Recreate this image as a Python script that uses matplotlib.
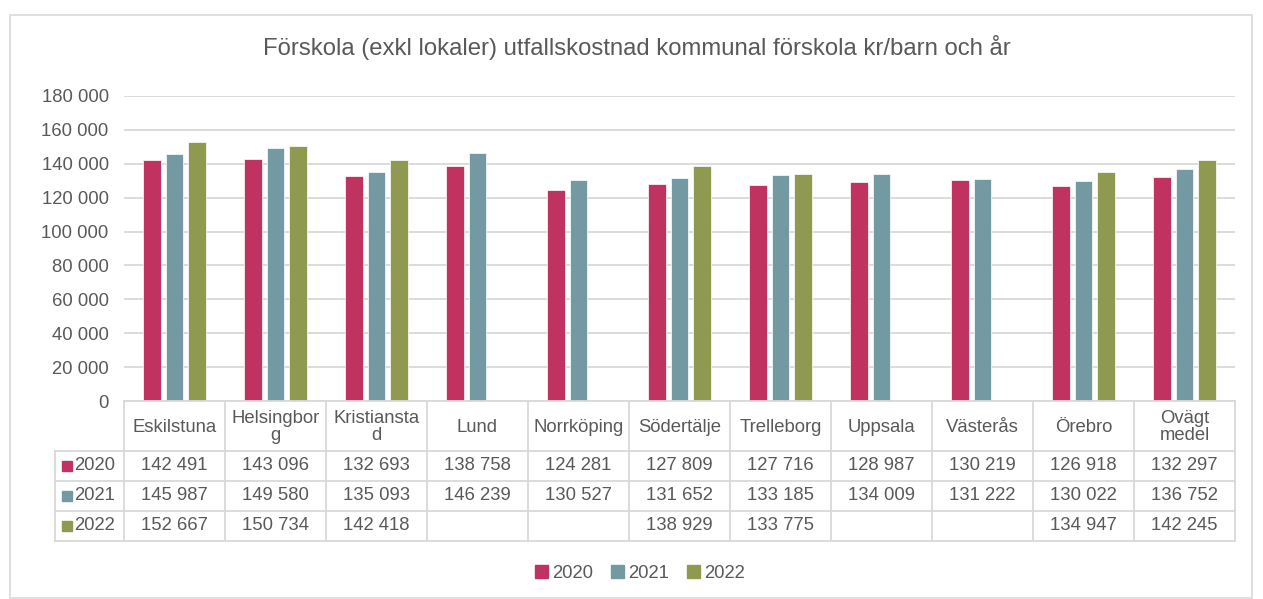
import matplotlib.pyplot as plt
import matplotlib.transforms as mtransforms
from matplotlib.patches import Patch, Rectangle
from matplotlib.lines import Line2D
import numpy as np

plt.rcParams['font.family'] = ['Liberation Sans', 'DejaVu Sans']

# data
kommuner = ['Eskilstuna', 'Helsingbor\ng', 'Kristiansta\nd', 'Lund', 'Norrköping',
            'Södertälje', 'Trelleborg', 'Uppsala', 'Västerås', 'Örebro', 'Ovägt\nmedel']
ar = ['2020', '2021', '2022']
v2020 = [142491, 143096, 132693, 138758, 124281, 127809, 127716, 128987, 130219, 126918, 132297]
v2021 = [145987, 149580, 135093, 146239, 130527, 131652, 133185, 134009, 131222, 130022, 136752]
v2022 = [152667, 150734, 142418, None, None, 138929, 133775, None, None, 134947, 142245]
serier = [v2020, v2021, v2022]
farger = ['#C0325F', '#7399A3', '#8F9A50']
textfarg = '#595959'
linjefarg = '#D9D9D9'

W, H = 1263, 599
fig = plt.figure(figsize=(W / 100, H / 100), dpi=100)

def fy(py):
    return 1 - py / H

# ram runt diagrammet
fig.patches.append(Rectangle((10 / W, fy(598)), (1252 - 10) / W, (598 - 15) / H,
                             transform=fig.transFigure, fill=False,
                             edgecolor=linjefarg, lw=1.2))

x0, x1, ytop, y0 = 124, 1235, 96, 401
ax = fig.add_axes([x0 / W, fy(y0), (x1 - x0) / W, (y0 - ytop) / H])

n = len(kommuner)
x = np.arange(n)
bw = 0.175
step = 0.222
for i, (vals, c) in enumerate(zip(serier, farger)):
    h = [np.nan if v is None else v for v in vals]
    ax.bar(x + (i - 1) * step, h, width=bw, color=c, edgecolor='white', lw=0.5, zorder=3)

ax.set_xlim(-0.5, n - 0.5)
ax.set_ylim(0, 180000)
ax.set_yticks(range(0, 180001, 20000))
ax.set_yticklabels([f'{t:,}'.replace(',', ' ') for t in range(0, 180001, 20000)])
ax.tick_params(axis='y', length=0, pad=11, labelsize=13.3, labelcolor=textfarg)
ax.set_xticks([])
ax.grid(axis='y', color=linjefarg, lw=1.3, zorder=0)
for s in ['left', 'right', 'top', 'bottom']:
    ax.spines[s].set_visible(False)

fig.text(637 / W, fy(48), 'Förskola (exkl lokaler) utfallskostnad kommunal förskola kr/barn och år',
         ha='center', va='center', fontsize=17.2, color=textfarg)

# datatabell under diagrammet
tr = mtransforms.blended_transform_factory(ax.transData, fig.transFigure)
pxd = (x1 - x0) / n  # pixlar per kategori
xl = -0.5 - (x0 - 55) / pxd
rader = [401, 451, 481, 511, 541]

def hlinje(xa, xb, py):
    fig.add_artist(Line2D([xa, xb], [fy(py), fy(py)], transform=tr, color=linjefarg, lw=1.3))

def vlinje(xv, pa, pb):
    fig.add_artist(Line2D([xv, xv], [fy(pa), fy(pb)], transform=tr, color=linjefarg, lw=1.3))

hlinje(-0.5, n - 0.5, rader[0])
for py in rader[1:]:
    hlinje(xl, n - 0.5, py)
for k in range(n + 1):
    vlinje(k - 0.5, rader[0], rader[-1])
vlinje(xl, rader[1], rader[-1])

for k, namn in enumerate(kommuner):
    fig.text(k, fy((rader[0] + rader[1]) / 2 + 1), namn, transform=tr, ha='center', va='center',
             fontsize=13.3, color=textfarg, linespacing=1.0)

for r, (lbl, vals, c) in enumerate(zip(ar, serier, farger)):
    ymid = (rader[r + 1] + rader[r + 2]) / 2
    ks = -0.5 - (x0 - 62) / pxd
    fig.patches.append(Rectangle((ks, fy(ymid + 5)), 10 / pxd, 10 / H, transform=tr, color=c))
    fig.text(-0.5 - (x0 - 74) / pxd, fy(ymid), lbl, transform=tr, ha='left', va='center',
             fontsize=13.3, color=textfarg)
    for k, v in enumerate(vals):
        if v is None:
            continue
        fig.text(k, fy(ymid), f'{v:,}'.replace(',', ' '), transform=tr, ha='center',
                 va='center', fontsize=13.3, color=textfarg)

# teckenförklaring
handtag = [Patch(color=c, label=l) for c, l in zip(farger, ar)]
fig.legend(handles=handtag, loc='center', bbox_to_anchor=(640 / W, fy(573)), ncol=3,
           frameon=False, fontsize=13.3, labelcolor=textfarg, handlelength=0.7,
           handleheight=0.7, handletextpad=0.2, columnspacing=1.0)

fig.savefig('out.png', dpi=100, facecolor='white')
